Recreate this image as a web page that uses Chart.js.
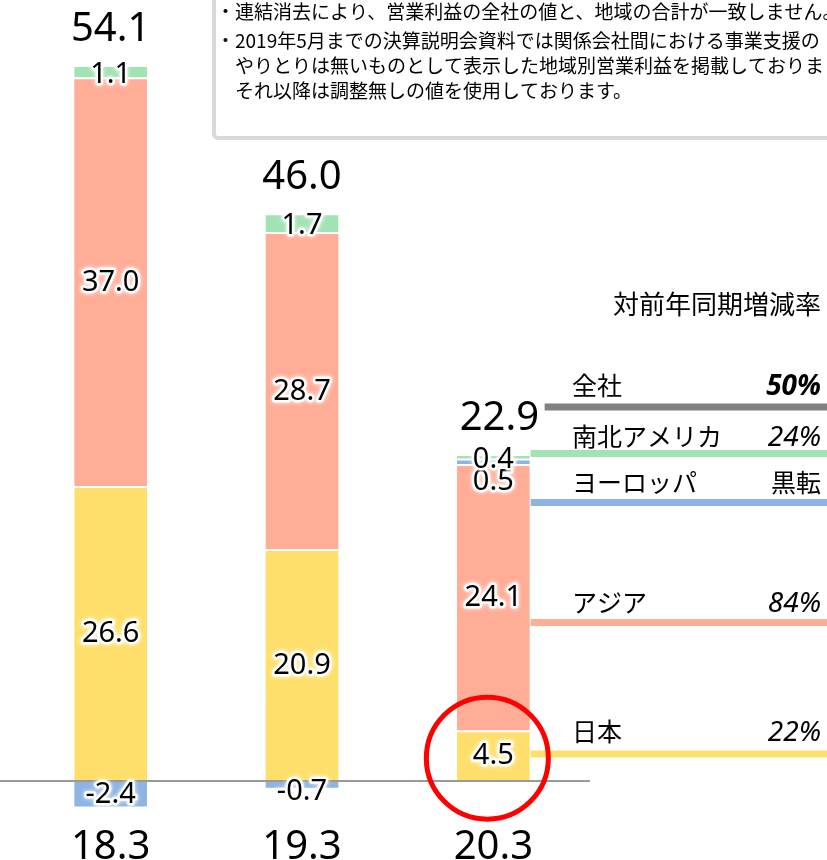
<!DOCTYPE html>
<html><head><meta charset="utf-8">
<script src="https://cdn.jsdelivr.net/npm/chart.js@4"></script>
<style>html,body{margin:0;padding:0;background:#fff;}#wrap{width:827px;height:860px;position:relative;}</style>
</head><body><div id="wrap"><canvas id="c" width="827" height="860"></canvas></div>
<script>
const categories = ['18.3', '19.3', '20.3'];
const japan = [26.6, 20.9, 4.5];
const asia = [37.0, 28.7, 24.1];
const europe = [-2.4, -0.7, 0.5];
const americas = [1.1, 1.7, 0.4];
const totals = [54.1, 46.0, 22.9];
const regionNames = ['全社', '南北アメリカ', 'ヨーロッパ', 'アジア', '日本'];
const yoyRates = ['50%', '24%', '黒転', '84%', '22%'];
const yoyTitle = '対前年同期増減率';
const noteLines = [
  '・連結消去により、営業利益の全社の値と、地域の合計が一致しません。',
  '・2019年5月までの決算説明会資料では関係会社間における事業支援の',
  '　やりとりは無いものとして表示した地域別営業利益を掲載しておりましたが、',
  '　それ以降は調整無しの値を使用しております。'
];

const COL = {japan:'#FFDF6B', asia:'#FFAD97', europe:'#8EB4E3', americas:'#A2E3B3', total:'#808080'};
const NUM = '"Noto Sans", "DejaVu Sans", sans-serif';
const JP = '"Noto Sans CJK JP", "Noto Sans", sans-serif';

function haloText(ctx, txt, x, y) {
  ctx.save();
  ctx.lineJoin = 'round';
  ctx.strokeStyle = 'rgba(255,255,255,0.95)';
  ctx.shadowColor = '#fff';
  ctx.shadowBlur = 4;
  ctx.lineWidth = 5;
  ctx.strokeText(txt, x, y);
  ctx.shadowBlur = 0;
  ctx.fillStyle = '#000';
  ctx.fillText(txt, x, y);
  ctx.restore();
}

const deco = {
  id: 'deco',
  afterDatasetsDraw(chart) {
    const ctx = chart.ctx;
    const xs = chart.scales.x, ys = chart.scales.y;
    const zeroY = ys.getPixelForValue(0);
    // baseline
    ctx.save();
    ctx.strokeStyle = '#9a9a9a'; ctx.lineWidth = 2;
    ctx.beginPath(); ctx.moveTo(0, zeroY); ctx.lineTo(chart.chartArea.right + 1, zeroY); ctx.stroke();
    ctx.restore();

    // segment labels
    const offsets = {'2-1': 7, '2-2': 20, '3-0': 3, '3-1': 2, '3-2': 2};
    ctx.font = '29px ' + NUM;
    ctx.textAlign = 'center'; ctx.textBaseline = 'middle';
    chart.data.datasets.forEach((ds, di) => {
      const meta = chart.getDatasetMeta(di);
      meta.data.forEach((el, i) => {
        const v = ds.data[i];
        const cy = (el.y + el.base) / 2 + (offsets[di + '-' + i] || 0);
        haloText(ctx, v.toFixed(1), el.x, cy);
      });
    });

    // totals
    ctx.font = '40px ' + NUM;
    ctx.textBaseline = 'alphabetic';
    const last = chart.getDatasetMeta(3);
    totals.forEach((t, i) => {
      const el = last.data[i];
      const shift = i === 2 ? 6 : 0;
      ctx.fillStyle = '#000';
      ctx.fillText(t.toFixed(1), el.x + shift, el.y - 25);
    });

    // categories
    ctx.font = '40px ' + NUM;
    categories.forEach((c, i) => {
      ctx.fillStyle = '#000';
      ctx.fillText(c, xs.getPixelForValue(i), 859);
    });

    // legend lines from last bar
    const b3 = chart.getDatasetMeta(0).data[2];
    const right = b3.x + b3.width / 2;
    const lines = [
      {c: COL.total, y: 407, x0: right + 14},
      {c: COL.americas, y: 453.5, x0: right},
      {c: COL.europe, y: 502.5, x0: right},
      {c: COL.asia, y: 622.5, x0: right},
      {c: COL.japan, y: 754, x0: right}
    ];
    const textY = [395, 446, 492, 612, 741];
    lines.forEach((l, k) => {
      ctx.save();
      ctx.strokeStyle = l.c; ctx.lineWidth = 7;
      ctx.beginPath(); ctx.moveTo(l.x0, l.y); ctx.lineTo(827, l.y); ctx.stroke();
      ctx.restore();
      ctx.fillStyle = '#000';
      ctx.textAlign = 'left'; ctx.textBaseline = 'alphabetic';
      ctx.font = '25px ' + JP;
      ctx.fillText(regionNames[k], 572, textY[k]);
      ctx.textAlign = 'right';
      const r = yoyRates[k];
      if (/%/.test(r)) ctx.font = (k === 0 ? 'italic bold 28px ' : 'italic 28px ') + NUM;
      else ctx.font = '25px ' + JP;
      ctx.fillText(r, 821, textY[k]);
    });
    ctx.textAlign = 'right';
    ctx.font = '26px ' + JP;
    ctx.fillText(yoyTitle, 821, 314);

    // red circle around Japan segment of last bar
    const jp = chart.getDatasetMeta(0).data[2];
    ctx.save();
    ctx.strokeStyle = '#FF0000'; ctx.lineWidth = 5;
    ctx.beginPath();
    ctx.arc(jp.x - 6, (jp.y + jp.base) / 2 + 2, 61, 0, Math.PI * 2);
    ctx.stroke();
    ctx.restore();

    // note box
    ctx.save();
    ctx.strokeStyle = '#d9d9d9'; ctx.lineWidth = 4;
    ctx.beginPath();
    if (ctx.roundRect) ctx.roundRect(214, -20, 700, 158, 4); else ctx.rect(214, -20, 700, 158);
    ctx.stroke();
    ctx.restore();
    ctx.fillStyle = '#000';
    ctx.textAlign = 'left'; ctx.textBaseline = 'alphabetic';
    ctx.font = '19px ' + JP;
    const ny = [19, 48, 73, 98];
    noteLines.forEach((t, k) => ctx.fillText(t, 216, ny[k]));
  }
};

new Chart(document.getElementById('c'), {
  type: 'bar',
  data: {
    labels: categories,
    datasets: [
      {label: '日本', data: japan, backgroundColor: COL.japan},
      {label: 'アジア', data: asia, backgroundColor: COL.asia},
      {label: 'ヨーロッパ', data: europe, backgroundColor: COL.europe},
      {label: '南北アメリカ', data: americas, backgroundColor: COL.americas}
    ]
  },
  options: {
    responsive: false,
    animation: false,
    layout: {padding: {left: 15, right: 238, top: 0, bottom: 0}},
    datasets: {bar: {barPercentage: 0.39, categoryPercentage: 1, borderColor: '#fff', borderWidth: 1, borderSkipped: false}},
    plugins: {legend: {display: false}, tooltip: {enabled: false}},
    scales: {
      x: {display: false, stacked: true},
      y: {display: false, stacked: true, min: -7.15, max: 70.68}
    }
  },
  plugins: [deco]
});
</script>
</body></html>
